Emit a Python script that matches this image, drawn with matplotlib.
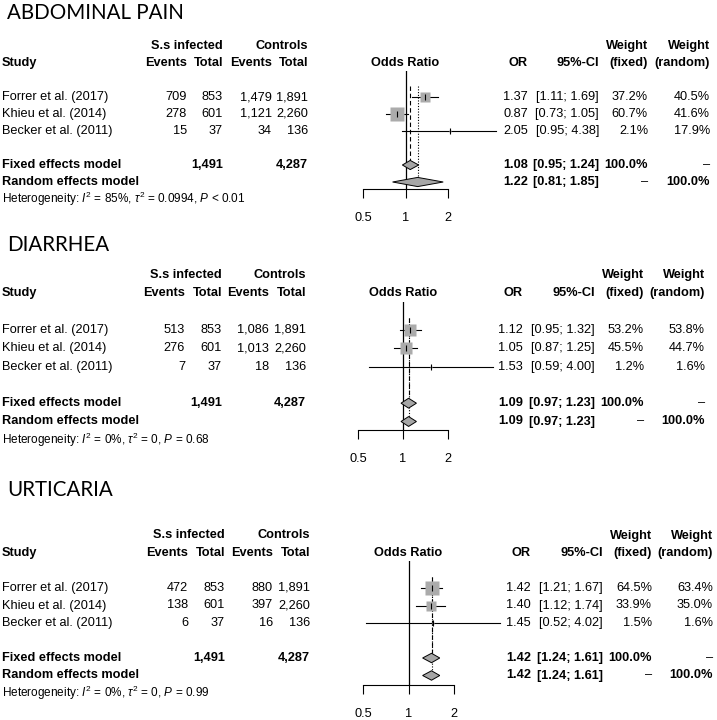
import matplotlib
matplotlib.use("Agg")
import matplotlib.pyplot as plt

plt.rcParams['font.family'] = ['Liberation Sans', 'DejaVu Sans']
plt.rcParams['mathtext.fontset'] = 'custom'
plt.rcParams['mathtext.rm'] = 'Liberation Sans'
plt.rcParams['mathtext.it'] = 'Liberation Sans:italic'

# data
studies = ["Forrer et al. (2017)", "Khieu et al. (2014)", "Becker et al. (2011)"]
ss_total = [853, 601, 37]
ctrl_total = [1891, 2260, 136]
ss_sum = 1491
ctrl_sum = 4287

abd_events = [709, 278, 15]
abd_ctrl = [1479, 1121, 34]
abd_or = [1.37, 0.87, 2.05]
abd_lo = [1.11, 0.73, 0.95]
abd_hi = [1.69, 1.05, 4.38]
abd_wf = [37.2, 60.7, 2.1]
abd_wr = [40.5, 41.6, 17.9]
abd_fixed = [1.08, 0.95, 1.24]
abd_random = [1.22, 0.81, 1.85]
abd_het = ["85%", "0.0994", "< 0.01"]

dia_events = [513, 276, 7]
dia_ctrl = [1086, 1013, 18]
dia_or = [1.12, 1.05, 1.53]
dia_lo = [0.95, 0.87, 0.59]
dia_hi = [1.32, 1.25, 4.00]
dia_wf = [53.2, 45.5, 1.2]
dia_wr = [53.8, 44.7, 1.6]
dia_fixed = [1.09, 0.97, 1.23]
dia_random = [1.09, 0.97, 1.23]
dia_het = ["0%", "0", "= 0.68"]

urt_events = [472, 138, 6]
urt_ctrl = [880, 397, 16]
urt_or = [1.42, 1.40, 1.45]
urt_lo = [1.21, 1.12, 0.52]
urt_hi = [1.67, 1.74, 4.02]
urt_wf = [64.5, 33.9, 1.5]
urt_wr = [63.4, 35.0, 1.6]
urt_fixed = [1.42, 1.24, 1.61]
urt_random = [1.42, 1.24, 1.61]
urt_het = ["0%", "0", "= 0.99"]

W, H = 717, 720
FS = 9.2
fig = plt.figure(figsize=(W / 100, H / 100), dpi=100)
tx = fig.add_axes([0, 0, 1, 1])
tx.set_xlim(0, W)
tx.set_ylim(H, 0)
tx.axis("off")


def n(v):
    return f"{v:,}"


def panel(title, title_y, y0, dy, x05, x2, base_px, lc, rc,
          ev, ce, orv, lo, hi, wf, wr, fixed, random, het):
    def y(r):
        return y0 + r * dy

    tx.text(7, title_y, title, fontsize=14.8, family="Lato", va="center", ha="left")
    b = dict(fontsize=FS, va="center", fontweight="bold")
    t = dict(fontsize=FS, va="center")
    # headers
    tx.text(lc[1], y(-3), "S.s infected", ha="right", **b)
    tx.text(lc[3], y(-3), "Controls", ha="right", **b)
    tx.text(2, y(-2), "Study", ha="left", **b)
    for x, s in zip(lc, ["Events", "Total", "Events", "Total"]):
        tx.text(x, y(-2), s, ha="right", **b)
    x1 = x05 + (x2 - x05) / 2
    tx.text(x1, y(-2), "Odds Ratio", ha="center", **b)
    tx.text(rc[0], y(-2), "OR", ha="right", **b)
    tx.text(rc[1], y(-2), "95%-CI", ha="right", **b)
    tx.text(rc[2], y(-3), "Weight", ha="right", **b)
    tx.text(rc[2], y(-2), "(fixed)", ha="right", **b)
    tx.text(rc[3], y(-3), "Weight", ha="right", **b)
    tx.text(rc[3], y(-2), "(random)", ha="right", **b)
    # study rows
    for i in range(3):
        tx.text(2, y(i), studies[i], ha="left", **t)
        for x, v in zip(lc, [ev[i], ss_total[i], ce[i], ctrl_total[i]]):
            tx.text(x, y(i), n(v), ha="right", **t)
        tx.text(rc[0], y(i), f"{orv[i]:.2f}", ha="right", **t)
        tx.text(rc[1], y(i), f"[{lo[i]:.2f}; {hi[i]:.2f}]", ha="right", **t)
        tx.text(rc[2], y(i), f"{wf[i]:.1f}%", ha="right", **t)
        tx.text(rc[3], y(i), f"{wr[i]:.1f}%", ha="right", **t)
    # summary rows
    tx.text(2, y(4), "Fixed effects model", ha="left", **b)
    tx.text(lc[1], y(4), n(ss_sum), ha="right", **b)
    tx.text(lc[3], y(4), n(ctrl_sum), ha="right", **b)
    tx.text(rc[0], y(4), f"{fixed[0]:.2f}", ha="right", **b)
    tx.text(rc[1], y(4), f"[{fixed[1]:.2f}; {fixed[2]:.2f}]", ha="right", **b)
    tx.text(rc[2], y(4), "100.0%", ha="right", **b)
    tx.text(rc[3], y(4), "\u2013", ha="right", **t)
    tx.text(2, y(5), "Random effects model", ha="left", **b)
    tx.text(rc[0], y(5), f"{random[0]:.2f}", ha="right", **b)
    tx.text(rc[1], y(5), f"[{random[1]:.2f}; {random[2]:.2f}]", ha="right", **b)
    tx.text(rc[2], y(5), "\u2013", ha="right", **t)
    tx.text(rc[3], y(5), "100.0%", ha="right", **b)
    tx.text(2, y(6), rf"Heterogeneity: $I^2$ = {het[0]}, $\tau^2$ = {het[1]}, $P$ {het[2]}",
            ha="left", va="center", fontsize=8.5)

    # forest axes
    top_row = -1.55
    base_row = (base_px - y0) / dy
    top_px = y(top_row)
    ax = fig.add_axes([x05 / W, 1 - base_px / H, (x2 - x05) / W, (base_px - top_px) / H])
    ax.patch.set_alpha(0)
    ax.set_xscale("log")
    ax.set_xlim(0.5, 2)
    ax.set_ylim(base_row, top_row)
    for s in ["top", "left", "right"]:
        ax.spines[s].set_visible(False)
    ax.spines["bottom"].set_linewidth(0.8)
    ax.set_yticks([])
    ax.set_xticks([0.5, 1, 2])
    ax.set_xticklabels(["0.5", "1", "2"])
    ax.minorticks_off()
    ax.tick_params(axis="x", direction="out", length=6.5, width=0.8, pad=10, labelsize=FS)
    ax.axvline(1, color="black", lw=0.9)
    h = 0.27
    ax.plot([fixed[0], fixed[0]], [-0.65, 4 - h], color="black", lw=0.8, ls=(0, (4, 2.5)))
    ax.plot([random[0], random[0]], [-0.65, 5 - h], color="black", lw=0.8, ls=(0, (1, 1.5)))
    for i in range(3):
        ax.plot([lo[i], hi[i]], [i, i], color="black", lw=0.8, clip_on=False)
        ax.plot(orv[i], i, marker="s", ms=1.25 * wf[i] ** 0.5, color="#ababab",
                mec="none", clip_on=False)
        ax.plot(orv[i], i, marker="|", ms=4, mew=0.8, color="black", clip_on=False)
    for r, est in [(4, fixed), (5, random)]:
        ax.fill([est[1], est[0], est[2], est[0]], [r, r - h, r, r + h],
                facecolor="#a6a6a6", edgecolor="black", lw=0.7, clip_on=False, zorder=3)


panel("ABDOMINAL PAIN", 13, 97, 17, 363, 448, 189,
      (187, 223, 272, 308), (528, 599, 648, 710),
      abd_events, abd_ctrl, abd_or, abd_lo, abd_hi, abd_wf, abd_wr,
      abd_fixed, abd_random, abd_het)
panel("DIARRHEA", 245, 330, 18.3, 358, 448, 430,
      (185, 222, 269, 306), (523, 595, 644, 705),
      dia_events, dia_ctrl, dia_or, dia_lo, dia_hi, dia_wf, dia_wr,
      dia_fixed, dia_random, dia_het)
panel("URTICARIA", 490, 588, 17.5, 363, 454, 685,
      (188, 225, 273, 310), (531, 603, 652, 713),
      urt_events, urt_ctrl, urt_or, urt_lo, urt_hi, urt_wf, urt_wr,
      urt_fixed, urt_random, urt_het)

fig.savefig("out.png", dpi=100)
plt.close(fig)
